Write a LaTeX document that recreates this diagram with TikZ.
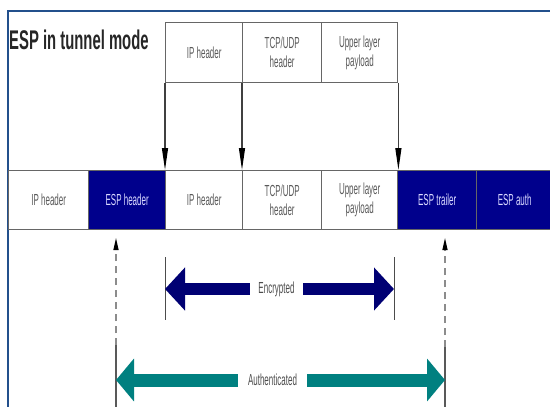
\documentclass[tikz,border=0pt]{standalone}
\usepackage{fontspec}
\setmainfont{Liberation Sans}
\newfontfamily\narrowfont[FakeStretch=0.55]{Liberation Sans}
\newfontfamily\cellfont[FakeStretch=0.5]{Liberation Sans}
\usetikzlibrary{arrows.meta}
\definecolor{navyfill}{RGB}{0,0,140}
\definecolor{navyarrow}{RGB}{0,0,115}
\definecolor{tealarrow}{RGB}{0,128,128}
\definecolor{framecol}{RGB}{35,80,140}
\begin{document}
\begin{tikzpicture}[x=1pt,y=-1pt,
  cell/.style={draw=black!60, line width=1.4pt, inner sep=0pt, anchor=north west,
    align=center, font=\cellfont\fontsize{16}{19}\selectfont, text=black!65},
  toprow/.style={cell, minimum height=60pt},
  botrow/.style={cell, minimum height=59pt},
  darkcell/.style={fill=navyfill, text=white!85!blue},
  downarrow/.style={draw=black!75, line width=1.2pt, -{Triangle[length=22pt,width=6pt,color=black]}},
  lab/.style={inner sep=0pt, minimum height=14pt, font=\cellfont\fontsize{16}{18}\selectfont, text=black!70},
  encarr/.style={draw=navyarrow, line width=12pt, -{Triangle[length=20pt,width=42pt]}},
  autharr/.style={draw=tealarrow, line width=13pt, -{Triangle[length=18pt,width=42pt]}},
  barline/.style={draw=black!70, line width=1pt},
  dashpart/.style={draw=black!45, line width=1.2pt, dash pattern=on 7pt off 5pt, -{Triangle[length=12pt,width=5pt,color=black]}},
  solidpart/.style={draw=black!65, line width=1.2pt},
  framestyle/.style={draw=framecol, line width=2pt}
]
\useasboundingbox (0,0) rectangle (550,407);

% frame
\draw[framestyle] (8,407) -- (8,11) -- (550,11);

% title
\node[anchor=base west, inner sep=0pt, font=\narrowfont\bfseries\fontsize{27}{30}\selectfont, text=black!85] (title) at (9,49) {ESP in tunnel mode};

% top row
\node[toprow, minimum width=77pt] (t1) at (165,22) {IP header};
\node[toprow, minimum width=79pt] (t2) at (242,22) {TCP/UDP\\header};
\node[toprow, minimum width=76pt] (t3) at (321,22) {Upper layer\\payload};

% bottom row
\node[botrow, minimum width=80pt] (b1) at (8,170) {IP header};
\node[botrow, darkcell, minimum width=77pt] (b2) at (88,170) {ESP header};
\node[botrow, minimum width=77pt] (b3) at (165,170) {IP header};
\node[botrow, minimum width=79pt] (b4) at (242,170) {TCP/UDP\\header};
\node[botrow, minimum width=76pt] (b5) at (321,170) {Upper layer\\payload};
\node[botrow, darkcell, minimum width=79pt] (b6) at (397,170) {ESP trailer};
\node[botrow, darkcell, minimum width=76pt] (b7) at (476,170) {ESP auth};

% down arrows
\draw[downarrow] (t1.south west) -- (b3.north west);
\draw[downarrow] (t2.south west) -- (b4.north west);
\draw[downarrow] (t3.south east) -- (b5.north east);

% dashed guide lines
\coordinate (aTop) at (116,238);
\coordinate (aMid) at (116,345);
\coordinate (aBot) at (116,407);
\coordinate (bTop) at (445,238);
\coordinate (bMid) at (445,347);
\coordinate (bBot) at (445,407);
\draw[dashpart] (aMid) -- (aTop);
\draw[solidpart] (aMid) -- (aBot);
\draw[dashpart] (bMid) -- (bTop);
\draw[solidpart] (bMid) -- (bBot);

% encrypted
\coordinate (eL) at (165,289);
\coordinate (eR) at (394,289);
\draw[barline] (165,257) -- (165,320);
\draw[barline] (394,257) -- (394,320);
\node[lab, minimum width=53pt] (enc) at (276.5,289) {Encrypted};
\draw[encarr] (enc.west) -- (eL);
\draw[encarr] (enc.east) -- (eR);

% authenticated
\coordinate (auL) at (116,380);
\coordinate (auR) at (445,380);
\node[lab, minimum width=69pt] (auth) at (272.5,380) {Authenticated};
\draw[autharr] (auth.west) -- (auL);
\draw[autharr] (auth.east) -- (auR);
\end{tikzpicture}
\end{document}
